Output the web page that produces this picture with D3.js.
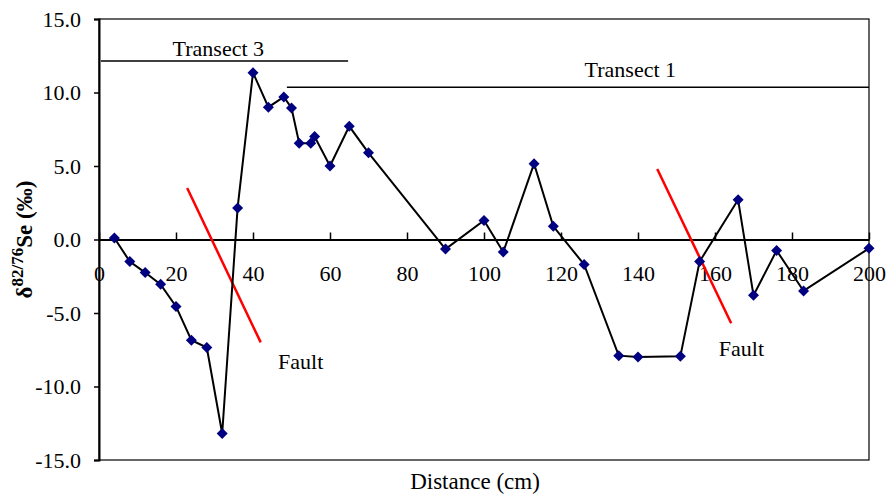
<!DOCTYPE html>
<html>
<head>
<meta charset="utf-8">
<script src="https://cdn.jsdelivr.net/npm/d3@7"></script>
<style>
  body { margin: 0; background: #fff; }
  text { font-family: "Liberation Serif", "Times New Roman", serif; }
</style>
</head>
<body>
<div id="chart"></div>
<script>
// Se isotope profile along the transects
var distance = [4, 8, 12, 16, 20, 24, 28, 32, 36, 40, 44, 48, 50, 52, 55, 56, 60, 65, 70,
                90, 100, 105, 113, 118, 126, 135, 140, 151, 156, 166, 170, 176, 183, 200];
var delta = [0.1, -1.5, -2.25, -3.05, -4.55, -6.85, -7.35, -13.2, 2.15, 11.35, 9.0, 9.7, 8.95, 6.55, 6.55, 7.0, 5.0, 7.7, 5.9,
             -0.65, 1.3, -0.85, 5.15, 0.9, -1.7, -7.9, -8.0, -7.95, -1.5, 2.7, -3.8, -0.75, -3.5, -0.6];

var yTicks = [-15, -10, -5, 0, 5, 10, 15];
var xTicks = [0, 20, 40, 60, 80, 100, 120, 140, 160, 180, 200];

// transect bars: [start, end, level, label]
var transects = [
  [0.5, 64.7, 12.15, "Transect 3"],
  [48.8, 200, 10.35, "Transect 1"]
];
// fault lines: [x1, y1, x2, y2]
var faults = [
  [22.9, 3.5, 42, -7.0],
  [145, 4.8, 164.2, -5.7]
];
var faultLabels = [[46.5, -8.8], [161, -7.9]];

var W = 886, H = 494;
var pLeft = 99, pRight = 869, pTop = 19, pBottom = 460;
var fs = '22px';

var svg = d3.select('#chart').append('svg')
  .attr('width', W)
  .attr('height', H);

var x = d3.scaleLinear().domain([0, 200]).range([pLeft, pRight]);
var y = d3.scaleLinear().domain([-15, 15]).range([pBottom, pTop]);

// plot box
svg.append('rect')
  .attr('x', pLeft).attr('y', pTop)
  .attr('width', pRight - pLeft).attr('height', pBottom - pTop)
  .attr('fill', 'none')
  .attr('stroke', '#000')
  .attr('stroke-width', 1.2);

// y axis
var yAxis = svg.append('g')
  .attr('transform', 'translate(' + pLeft + ',0)')
  .call(d3.axisLeft(y).tickValues(yTicks).tickSize(5).tickPadding(13));
yAxis.attr('font-family', null);
yAxis.select('.domain').attr('stroke-width', 2);
yAxis.selectAll('line').attr('stroke-width', 1.5);
yAxis.selectAll('text')
  .style('font-size', fs)
  .attr('fill', '#000')
  .text(function(d) { return d3.format('.1f')(d).replace('−', '-'); });

// x axis through zero, ticks upward
var xAxis = svg.append('g')
  .attr('transform', 'translate(0,' + y(0) + ')')
  .call(d3.axisBottom(x).tickValues(xTicks).tickSizeInner(-7).tickSizeOuter(0).tickPadding(26));
xAxis.attr('font-family', null);
xAxis.select('.domain').attr('stroke-width', 2);
xAxis.selectAll('line').attr('stroke-width', 1.5);
xAxis.selectAll('text')
  .style('font-size', fs)
  .attr('fill', '#000');

// transects
transects.forEach(function(t) {
  svg.append('line')
    .attr('x1', x(t[0])).attr('x2', x(t[1]))
    .attr('y1', y(t[2])).attr('y2', y(t[2]))
    .attr('stroke', '#000').attr('stroke-width', 1.5);
});
svg.append('text')
  .attr('x', x(31)).attr('y', y(12.15) - 5)
  .attr('text-anchor', 'middle')
  .style('font-size', fs)
  .text(transects[0][3]);
svg.append('text')
  .attr('x', x(138)).attr('y', y(10.35) - 10)
  .attr('text-anchor', 'middle')
  .style('font-size', fs)
  .text(transects[1][3]);

// faults
faults.forEach(function(f) {
  svg.append('line')
    .attr('x1', x(f[0])).attr('y1', y(f[1]))
    .attr('x2', x(f[2])).attr('y2', y(f[3]))
    .attr('stroke', '#ff0000').attr('stroke-width', 2.5);
});
faultLabels.forEach(function(p) {
  svg.append('text')
    .attr('x', x(p[0])).attr('y', y(p[1]))
    .style('font-size', fs)
    .text('Fault');
});

// data line
var pts = distance.map(function(d, i) { return [d, delta[i]]; });
svg.append('path')
  .datum(pts)
  .attr('fill', 'none')
  .attr('stroke', '#000')
  .attr('stroke-width', 2)
  .attr('d', d3.line().x(function(d) { return x(d[0]); }).y(function(d) { return y(d[1]); }));

svg.selectAll('.pt')
  .data(pts)
  .enter()
  .append('path')
  .attr('class', 'pt')
  .attr('transform', function(d) { return 'translate(' + x(d[0]) + ',' + y(d[1]) + ')'; })
  .attr('d', 'M0,-5.5L5.5,0L0,5.5L-5.5,0Z')
  .attr('fill', '#000080');

// axis titles
svg.append('text')
  .attr('x', 475).attr('y', 489)
  .attr('text-anchor', 'middle')
  .style('font-size', '23px')
  .text('Distance (cm)');

var yt = svg.append('text')
  .attr('transform', 'translate(32,' + ((pTop + pBottom) / 2) + ') rotate(-90)')
  .attr('text-anchor', 'middle')
  .style('font-size', '23px')
  .style('font-weight', 'bold');
yt.append('tspan').text('δ');
yt.append('tspan').attr('dy', -9).style('font-size', '17px').text('82/76');
yt.append('tspan').attr('dy', 9).text('Se (‰)');
</script>
</body>
</html>
